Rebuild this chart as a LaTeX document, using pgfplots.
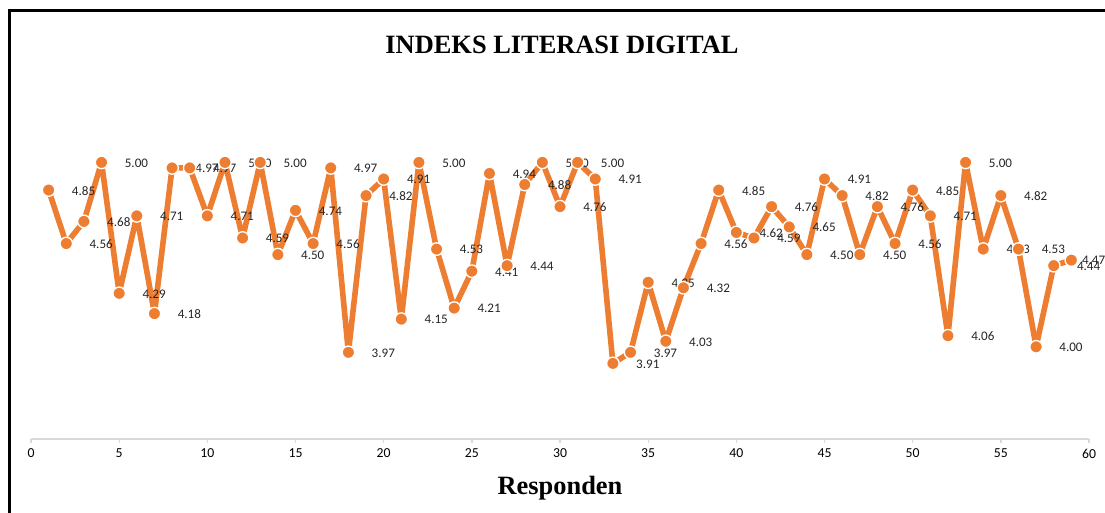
\documentclass[border=0pt]{standalone}
\usepackage{pgfplots}
\pgfplotsset{compat=1.18}
\usepackage{fontspec}
\setmainfont{Liberation Serif}
\newfontfamily\carlito{Carlito}
\definecolor{xlorange}{HTML}{ED7D31}
\definecolor{axgray}{HTML}{D9D9D9}
\begin{document}
\begin{tikzpicture}[x=1pt,y=1pt]
\useasboundingbox (0,0) rectangle (828.75,384.75);
\fill[white] (0,0) rectangle (828.75,384.75);
\draw[black, line width=1.9pt] (7.3,-5) -- (7.3,377.0) -- (840,377.0);
\node[font=\bfseries\fontsize{19.8}{22}\selectfont] at (421.5,351) {INDEKS LITERASI DIGITAL};
\node[font=\bfseries\fontsize{19.8}{22}\selectfont] at (420,18.75) {Responden};
\begin{axis}[
  at={(23.25pt,55.5pt)}, anchor=south west,
  width=793.5pt, height=276.6pt, scale only axis,
  xmin=0, xmax=60, ymin=3.5, ymax=5.5,
  axis x line=bottom, axis y line=none,
  x axis line style={-, draw=axgray, line width=1.1pt},
  xtick={0,5,...,60},
  tick align=outside,
  major tick length=3pt,
  tick style={draw=axgray, line width=1pt},
  xticklabel style={font=\carlito\fontsize{10.3}{11}\selectfont, yshift=-1pt},
  /pgf/number format/assume math mode=true,
  clip=false,
  visualization depends on={x \as \xval},
  nodes near coords={\pgfmathprintnumber[fixed, fixed zerofill, precision=2, assume math mode=true]{\pgfplotspointmeta}},
  every node near coord/.append style={anchor=west, xshift={(\xval>58.5 ? 7.5 : 17)*1pt}, yshift=-0.5pt, font=\carlito\fontsize{9.8}{10}\selectfont, text=black!85, inner sep=0pt},
  point meta=y,
]
\addplot[color=xlorange, line width=4.2pt, line join=round, line cap=round, mark=*, mark size=4.7pt,
  mark options={fill=xlorange, draw=white, line width=1pt}] coordinates {
(1,4.85) (2,4.56) (3,4.68) (4,5.00) (5,4.29) (6,4.71) (7,4.18) (8,4.97) (9,4.97) (10,4.71)
(11,5.00) (12,4.59) (13,5.00) (14,4.50) (15,4.74) (16,4.56) (17,4.97) (18,3.97) (19,4.82) (20,4.91)
(21,4.15) (22,5.00) (23,4.53) (24,4.21) (25,4.41) (26,4.94) (27,4.44) (28,4.88) (29,5.00) (30,4.76)
(31,5.00) (32,4.91) (33,3.91) (34,3.97) (35,4.35) (36,4.03) (37,4.32) (38,4.56) (39,4.85) (40,4.62)
(41,4.59) (42,4.76) (43,4.65) (44,4.50) (45,4.91) (46,4.82) (47,4.50) (48,4.76) (49,4.56) (50,4.85)
(51,4.71) (52,4.06) (53,5.00) (54,4.53) (55,4.82) (56,4.53) (57,4.00) (58,4.44) (59,4.47)
};
\end{axis}
\end{tikzpicture}
\end{document}
